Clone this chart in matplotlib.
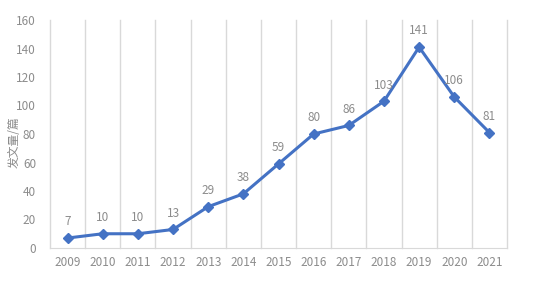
import matplotlib.pyplot as plt
import numpy as np

plt.rcParams['font.family'] = ['Noto Sans CJK SC', 'DejaVu Sans']

years = ['2009', '2010', '2011', '2012', '2013', '2014', '2015',
         '2016', '2017', '2018', '2019', '2020', '2021']
counts = [7, 10, 10, 13, 29, 38, 59, 80, 86, 103, 141, 106, 81]

grey = '#8c8c8c'
grid_c = '#d9d9d9'
line_c = '#4472C4'

fig = plt.figure(figsize=(5.51, 2.83), dpi=100)
ax = fig.add_axes([50 / 551, 1 - 248 / 283, 457 / 551, 228 / 283])

x = np.arange(len(years))
ax.plot(x, counts, color=line_c, lw=2.2, marker='D', ms=5, zorder=3)
for xi, v in zip(x, counts):
    ax.annotate(str(v), (xi, v), xytext=(0, 7), textcoords='offset points',
                ha='center', va='bottom', fontsize=8.5, color=grey)

ax.set_xlim(-0.5, len(years) - 0.5)
ax.set_ylim(0, 160)
ax.set_yticks(range(0, 161, 20))
ax.set_xticks(x)
ax.set_xticklabels(years)
for b in np.arange(-0.5, len(years), 1.0):
    ax.axvline(b, color=grid_c, lw=1, zorder=1, clip_on=False)

for s in ['top', 'right', 'left']:
    ax.spines[s].set_visible(False)
ax.spines['bottom'].set_color(grid_c)
ax.tick_params(axis='both', length=0, colors=grey, labelsize=8.5)
ax.tick_params(axis='x', pad=6)
ax.tick_params(axis='y', pad=10)

# y label placed by hand so it stays inside the figure
fig.text(14 / 551, 1 - 142 / 283, '发文量/篇', rotation=90, color=grey,
         fontsize=8.5, ha='center', va='center')

fig.savefig('out.png', dpi=100)
